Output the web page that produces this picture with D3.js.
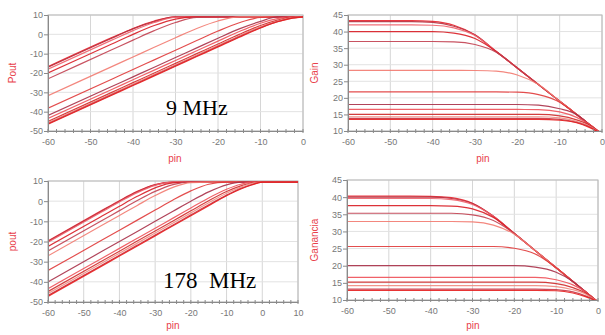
<!DOCTYPE html>
<html>
<head>
<meta charset="utf-8">
<script src="https://cdn.jsdelivr.net/npm/d3@7"></script>
<style>
  body { margin: 0; background: #fff; }
  svg { display: block; }
</style>
</head>
<body>
<script>
// input power sweep points (dBm)
var pin9 = [-60, -45, -40, -35, -30, -25, -20, -15, -10, -6, -3, 0];
var pin178 = [-60, -45, -40, -35, -30, -25, -20, -15, -10, -6, -3, 0, 5, 10];

// gain curves (dB), one row per bias setting, 9 MHz
var gain9 = [
  [43.3, 43.3, 43.05, 41.9, 39.0, 34.0, 29.0, 24.0, 19.0, 15.0, 12.0, 9.0],
  [43.0, 43.0, 42.8, 41.6, 39.0, 34.0, 29.0, 24.0, 19.0, 15.0, 12.0, 9.0],
  [42.0, 42.0, 41.9, 41.1, 38.8, 34.0, 29.0, 24.0, 19.0, 15.0, 12.0, 9.0],
  [40.0, 40.0, 40.0, 39.55, 37.9, 34.0, 29.0, 24.0, 19.0, 15.0, 12.0, 9.0],
  [37.0, 37.0, 37.0, 36.9, 36.1, 33.8, 29.0, 24.0, 19.0, 15.0, 12.0, 9.0],
  [28.3, 28.3, 28.3, 28.3, 28.25, 28.05, 26.9, 24.0, 19.0, 15.0, 12.0, 9.0],
  [21.8, 21.8, 21.8, 21.8, 21.8, 21.8, 21.7, 21.0, 18.7, 15.0, 12.0, 9.0],
  [18.0, 18.0, 18.0, 18.0, 18.0, 18.0, 18.0, 17.8, 16.7, 15.0, 12.0, 9.0],
  [16.5, 16.5, 16.5, 16.5, 16.5, 16.5, 16.5, 16.45, 15.75, 14.1, 12.0, 9.0],
  [15.0, 15.0, 15.0, 15.0, 15.0, 15.0, 15.0, 15.0, 14.55, 13.35, 11.8, 9.0],
  [14.3, 14.3, 14.3, 14.3, 14.3, 14.3, 14.3, 14.3, 13.95, 12.9, 11.5, 9.0],
  [13.8, 13.8, 13.8, 13.8, 13.8, 13.8, 13.8, 13.8, 13.5, 12.6, 11.3, 9.0],
  [13.5, 13.5, 13.5, 13.5, 13.5, 13.5, 13.5, 13.5, 13.25, 12.5, 11.1, 9.0]
];

// gain curves (dB), 178 MHz
var gain178 = [
  [40.3, 40.3, 40.25, 39.85, 38.2, 34.4, 29.4, 24.4, 19.4, 15.4, 12.4, 9.4, 4.4, -0.6],
  [40.0, 40.0, 40.0, 39.6, 38.1, 34.4, 29.4, 24.4, 19.4, 15.4, 12.4, 9.4, 4.4, -0.6],
  [39.6, 39.6, 39.6, 39.25, 37.85, 34.4, 29.4, 24.4, 19.4, 15.4, 12.4, 9.4, 4.4, -0.6],
  [37.5, 37.5, 37.5, 37.4, 36.6, 34.1, 29.4, 24.4, 19.4, 15.4, 12.4, 9.4, 4.4, -0.6],
  [35.3, 35.3, 35.3, 35.3, 34.85, 33.2, 29.4, 24.4, 19.4, 15.4, 12.4, 9.4, 4.4, -0.6],
  [32.9, 32.9, 32.9, 32.9, 32.78, 31.85, 29.2, 24.4, 19.4, 15.4, 12.4, 9.4, 4.4, -0.6],
  [25.6, 25.6, 25.6, 25.6, 25.6, 25.6, 25.1, 23.4, 19.4, 15.4, 12.4, 9.4, 4.4, -0.6],
  [20.0, 20.0, 20.0, 20.0, 20.0, 20.0, 20.0, 19.6, 18.1, 15.4, 12.4, 9.4, 4.4, -0.6],
  [16.6, 16.6, 16.6, 16.6, 16.6, 16.6, 16.6, 16.6, 15.9, 14.4, 12.4, 9.4, 4.4, -0.6],
  [15.2, 15.2, 15.2, 15.2, 15.2, 15.2, 15.2, 15.2, 14.8, 13.6, 12.0, 9.4, 4.4, -0.6],
  [14.2, 14.2, 14.2, 14.2, 14.2, 14.2, 14.2, 14.2, 13.9, 13.0, 11.75, 9.4, 4.4, -0.6],
  [13.2, 13.2, 13.2, 13.2, 13.2, 13.2, 13.2, 13.2, 13.0, 12.35, 11.2, 9.4, 4.4, -0.6],
  [12.8, 12.8, 12.8, 12.8, 12.8, 12.8, 12.8, 12.8, 12.7, 12.05, 11.0, 9.4, 4.4, -0.6]
];

// tick labels
var pinTicks9 = [-60, -50, -40, -30, -20, -10, 0];
var pinTicks178 = [-60, -50, -40, -30, -20, -10, 0, 10];
var poutTicks = [-50, -40, -30, -20, -10, 0, 10];
var gainTicks = [10, 15, 20, 25, 30, 35, 40, 45];

var lineColors = ['#e8242c', '#b8303f', '#f0606a', '#d81c24', '#c24050', '#f27a70',
                  '#e03a3a', '#a83048', '#ee5058', '#d02a2a', '#f08a80', '#c83848', '#e61e1e'];

var svg = d3.select('body').append('svg')
  .attr('width', 605)
  .attr('height', 335)
  .style('background', '#fff');

var clipId = 0;

// draw one small plot
function drawPanel(o) {
  var x = d3.scaleLinear().domain(o.xDomain).range([o.left, o.right]);
  var y = d3.scaleLinear().domain(o.yDomain).range([o.bottom, o.top]);
  var g = svg.append('g');

  // grid
  g.append('g').selectAll('line').data(o.xTicks).enter().append('line')
    .attr('x1', d => x(d)).attr('x2', d => x(d))
    .attr('y1', o.top).attr('y2', o.bottom)
    .attr('stroke', '#d6d6d6').attr('stroke-width', 1);
  g.append('g').selectAll('line').data(o.yTicks).enter().append('line')
    .attr('x1', o.left).attr('x2', o.right)
    .attr('y1', d => y(d)).attr('y2', d => y(d))
    .attr('stroke', '#e2e2e2').attr('stroke-width', 1);

  // frame
  g.append('rect')
    .attr('x', o.left).attr('y', o.top)
    .attr('width', o.right - o.left).attr('height', o.bottom - o.top)
    .attr('fill', 'none').attr('stroke', '#b8b8b8');

  // curves
  var id = 'clip' + (clipId++);
  svg.append('clipPath').attr('id', id).append('rect')
    .attr('x', o.left).attr('y', o.top - 1)
    .attr('width', o.right - o.left).attr('height', o.bottom - o.top + 1);

  var line = d3.line()
    .x(d => x(d[0]))
    .y(d => y(d[1]))
    .curve(d3.curveMonotoneX);

  g.append('g').attr('clip-path', 'url(#' + id + ')')
    .selectAll('path').data(o.curves).enter().append('path')
    .attr('d', line)
    .attr('fill', 'none')
    .attr('stroke', (d, i) => lineColors[i % lineColors.length])
    .attr('stroke-width', 1.2)
    .attr('stroke-opacity', 0.9);

  // axes
  var yAxis = d3.axisLeft(y).tickValues(o.yTicks).tickSize(4).tickPadding(1)
    .tickFormat(d => String(d));
  var ya = g.append('g').attr('transform', 'translate(' + o.left + ',0)').call(yAxis);
  var xAxis = d3.axisBottom(x).tickValues(o.xTicks).tickSize(0).tickPadding(8)
    .tickFormat(d => String(d));
  var xa = g.append('g').attr('transform', 'translate(0,' + o.bottom + ')').call(xAxis);

  [ya, xa].forEach(function(a) {
    a.select('.domain').attr('stroke', '#8a8a8a');
    a.selectAll('.tick line').attr('stroke', '#8a8a8a');
    a.selectAll('text').attr('fill', '#777').style('font-family', 'Liberation Sans, Arial, sans-serif')
      .style('font-size', '9px');
  });

  // minor ticks along pin axis
  g.append('g').selectAll('line').data(d3.range(o.xDomain[0], o.xDomain[1] + 1, 2)).enter().append('line')
    .attr('x1', d => x(d)).attr('x2', d => x(d))
    .attr('y1', o.bottom - 2).attr('y2', o.bottom + 2)
    .attr('stroke', '#8a8a8a');

  // axis titles
  g.append('text')
    .attr('transform', 'translate(' + o.yLabelX + ',' + ((o.top + o.bottom) / 2) + ') rotate(-90)')
    .attr('text-anchor', 'middle')
    .attr('fill', '#e8404a')
    .style('font-family', 'Liberation Sans, Arial, sans-serif')
    .style('font-size', '10px')
    .text(o.yLabel);
  g.append('text')
    .attr('x', o.xLabelX).attr('y', o.xLabelY)
    .attr('text-anchor', 'middle')
    .attr('fill', '#e8404a')
    .style('font-family', 'Liberation Sans, Arial, sans-serif')
    .style('font-size', '10px')
    .text('pin');
}

function poutRows(pins, gains) {
  return gains.map(row => row.map((gv, i) => [pins[i], pins[i] + gv]));
}
function gainRows(pins, gains) {
  return gains.map(row => row.map((gv, i) => [pins[i], gv]));
}

drawPanel({
  left: 48, right: 303, top: 15, bottom: 131,
  xDomain: [-60, 0], yDomain: [-50, 10],
  xTicks: pinTicks9, yTicks: poutTicks,
  curves: poutRows(pin9, gain9),
  yLabel: 'Pout', yLabelX: 16, xLabelX: 175, xLabelY: 162
});
drawPanel({
  left: 348, right: 602, top: 15, bottom: 131,
  xDomain: [-60, 0], yDomain: [10, 45],
  xTicks: pinTicks9, yTicks: gainTicks,
  curves: gainRows(pin9, gain9),
  yLabel: 'Gain', yLabelX: 318, xLabelX: 483, xLabelY: 162
});
drawPanel({
  left: 48, right: 298, top: 181, bottom: 302,
  xDomain: [-60, 10], yDomain: [-50, 10],
  xTicks: pinTicks178, yTicks: poutTicks,
  curves: poutRows(pin178, gain178),
  yLabel: 'pout', yLabelX: 16, xLabelX: 173, xLabelY: 329
});
drawPanel({
  left: 347, right: 598, top: 180, bottom: 300,
  xDomain: [-60, 0], yDomain: [10, 45],
  xTicks: pinTicks9, yTicks: gainTicks,
  curves: gainRows(pin178, gain178),
  yLabel: 'Ganancia', yLabelX: 318, xLabelX: 473, xLabelY: 329
});

// frequency captions
svg.append('text')
  .attr('x', 166).attr('y', 115)
  .style('font-family', 'Liberation Serif, Times New Roman, serif')
  .style('font-size', '22px')
  .attr('fill', '#000')
  .text('9 MHz');
svg.append('text')
  .attr('x', 163).attr('y', 288)
  .attr('xml:space', 'preserve')
  .style('white-space', 'pre')
  .style('font-family', 'Liberation Serif, Times New Roman, serif')
  .style('font-size', '23px')
  .attr('fill', '#000')
  .text('178  MHz');
</script>
</body>
</html>
